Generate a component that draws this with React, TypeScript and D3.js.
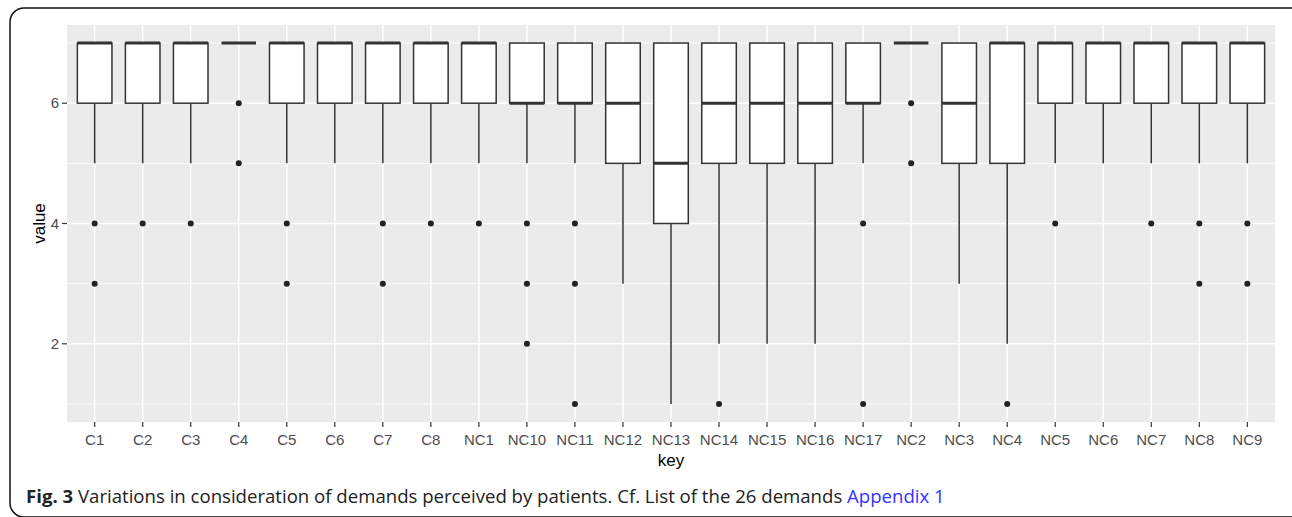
import React from "react";
import * as d3 from "d3";

const categories = ["C1","C2","C3","C4","C5","C6","C7","C8","NC1","NC10","NC11","NC12","NC13","NC14","NC15","NC16","NC17","NC2","NC3","NC4","NC5","NC6","NC7","NC8","NC9"];
const lowerWhisker = [5,5,5,7,5,5,5,5,5,5,5,3,1,2,2,2,5,7,3,2,5,5,5,5,5];
const q1 =           [6,6,6,7,6,6,6,6,6,6,6,5,4,5,5,5,6,7,5,5,6,6,6,6,6];
const median =       [7,7,7,7,7,7,7,7,7,6,6,6,5,6,6,6,6,7,6,7,7,7,7,7,7];
const q3 =           [7,7,7,7,7,7,7,7,7,7,7,7,7,7,7,7,7,7,7,7,7,7,7,7,7];
const upperWhisker = [7,7,7,7,7,7,7,7,7,7,7,7,7,7,7,7,7,7,7,7,7,7,7,7,7];
const outliers: number[][] = [
  [4,3],[4],[4],[6,5],[4,3],[],[4,3],[4],[4],[4,3,2],[4,3,1],[],[],[1],[],[],[4,1],[6,5],[],[1],[4],[],[4],[4,3],[4,3]
];
const yMajor = [2,4,6];
const yMinor = [1,3,5,7];

const W = 1292, H = 517;
const panel = { left: 67, right: 1275, top: 25, bottom: 422 };

export default function App() {
  // ggplot discrete expansion 0.6 units each side
  const n = categories.length;
  const unit = (panel.right - panel.left) / (n + 1.2);
  const xc = d3.scalePoint<string>().domain(categories).range([panel.left + 0.6 * unit, panel.right - 0.6 * unit]);
  const y = d3.scaleLinear().domain([0.7, 7.3]).range([panel.bottom, panel.top]);
  const bw = unit * 0.75;
  const axisFont = "'Liberation Sans', Arial, sans-serif";
  return (
    <svg width={W} height={H} style={{ position: "absolute", left: 0, top: 0, background: "#fff" }}>
      <rect x={10} y={8} width={1300} height={509} rx={14} ry={14} fill="none" stroke="#111" strokeWidth={1.5} />
      <rect x={panel.left} y={panel.top} width={panel.right - panel.left} height={panel.bottom - panel.top} fill="#EBEBEB" />
      {yMinor.map(v => (
        <line key={"mn" + v} x1={panel.left} x2={panel.right} y1={y(v)} y2={y(v)} stroke="#fff" strokeWidth={0.8} />
      ))}
      {yMajor.map(v => (
        <line key={"mj" + v} x1={panel.left} x2={panel.right} y1={y(v)} y2={y(v)} stroke="#fff" strokeWidth={1.6} />
      ))}
      {categories.map(c => (
        <line key={"vg" + c} x1={xc(c)} x2={xc(c)} y1={panel.top} y2={panel.bottom} stroke="#fff" strokeWidth={1.6} />
      ))}
      {categories.map((c, i) => {
        const cx = xc(c)!;
        return (
          <g key={"b" + c}>
            <line x1={cx} x2={cx} y1={y(q1[i])} y2={y(lowerWhisker[i])} stroke="#333" strokeWidth={1.5} />
            <line x1={cx} x2={cx} y1={y(q3[i])} y2={y(upperWhisker[i])} stroke="#333" strokeWidth={1.5} />
            <rect x={cx - bw / 2} y={y(q3[i])} width={bw} height={y(q1[i]) - y(q3[i])} fill="#fff" stroke="#333" strokeWidth={1.5} />
            <line x1={cx - bw / 2} x2={cx + bw / 2} y1={y(median[i])} y2={y(median[i])} stroke="#333" strokeWidth={3} />
            {outliers[i].map((v, j) => (
              <circle key={j} cx={cx} cy={y(v)} r={3} fill="#222" />
            ))}
          </g>
        );
      })}
      {yMajor.map(v => (
        <g key={"yt" + v}>
          <line x1={panel.left - 5} x2={panel.left} y1={y(v)} y2={y(v)} stroke="#333" strokeWidth={1.2} />
          <text x={panel.left - 8} y={y(v)} dy="0.35em" textAnchor="end" fontFamily={axisFont} fontSize={15} fill="#4D4D4D">{v}</text>
        </g>
      ))}
      {categories.map(c => (
        <g key={"xt" + c}>
          <line x1={xc(c)} x2={xc(c)} y1={panel.bottom} y2={panel.bottom + 5} stroke="#333" strokeWidth={1.2} />
          <text x={xc(c)} y={445} textAnchor="middle" fontFamily={axisFont} fontSize={15} fill="#4D4D4D">{c}</text>
        </g>
      ))}
      <text x={(panel.left + panel.right) / 2} y={466} textAnchor="middle" fontFamily={axisFont} fontSize={17} fill="#000">key</text>
      <text transform={`translate(45,${(panel.top + panel.bottom) / 2}) rotate(-90)`} textAnchor="middle" fontFamily={axisFont} fontSize={17} fill="#000">value</text>
      <text x={26} y={503} fontFamily="'Open Sans', sans-serif" fontSize={18.6} fill="#222">
        <tspan fontWeight="bold">Fig. 3</tspan>
        <tspan> Variations in consideration of demands perceived by patients. Cf. List of the 26 demands </tspan>
        <tspan fill="#3333FF">Appendix 1</tspan>
      </text>
    </svg>
  );
}
